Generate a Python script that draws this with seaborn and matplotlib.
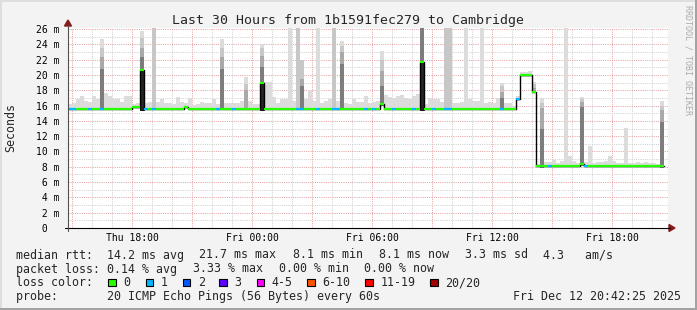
import numpy as np
import pandas as pd
import matplotlib
matplotlib.use("Agg")
import matplotlib.pyplot as plt
import matplotlib.transforms as mtrans
from matplotlib.patches import Rectangle, Polygon
from matplotlib.lines import Line2D
import seaborn as sns

# ---------------- data ----------------
TITLE = "Last 30 Hours from 1b1591fec279 to Cambridge"
start_hour = 14.8      # Thu 14:48, hours counted from Thu 00:00
bin_hours = 0.2        # one smoke column = 12 minutes

median_ms = [
    15.6, 15.6, 15.6, 15.6, 15.6, 15.6, 15.6, 15.6, 15.6, 15.6,
    15.6, 15.6, 15.6, 15.6, 15.6, 15.6, 15.8, 15.8, 20.7, 15.6,
    15.6, 15.6, 15.6, 15.6, 15.6, 15.6, 15.6, 15.6, 15.6, 15.8,
    15.6, 15.6, 15.6, 15.6, 15.6, 15.6, 15.6, 15.6, 15.6, 15.6,
    15.6, 15.6, 15.6, 15.6, 15.6, 15.6, 15.6, 15.6, 18.9, 15.6,
    15.6, 15.6, 15.6, 15.6, 15.6, 15.6, 15.6, 15.6, 15.6, 15.6,
    15.6, 15.6, 15.6, 15.6, 15.6, 15.6, 15.6, 15.6, 15.6, 15.6,
    15.6, 15.6, 15.6, 15.6, 15.6, 15.6, 15.6, 15.6, 16.2, 15.6,
    15.6, 15.6, 15.6, 15.6, 15.6, 15.6, 15.6, 15.6, 21.7, 15.6,
    15.6, 15.6, 15.6, 15.6, 15.6, 15.6, 15.6, 15.6, 15.6, 15.6,
    15.6, 15.6, 15.6, 15.6, 15.6, 15.6, 15.6, 15.6, 15.6, 15.6,
    15.6, 15.6, 16.8, 20.0, 20.0, 20.0, 17.8, 8.1, 8.1, 8.1,
    8.1, 8.1, 8.1, 8.1, 8.1, 8.1, 8.1, 8.1, 8.3, 8.1,
    8.1, 8.1, 8.1, 8.1, 8.1, 8.1, 8.1, 8.1, 8.1, 8.1,
    8.1, 8.1, 8.1, 8.1, 8.1, 8.1, 8.1, 8.1, 8.1,
]

smoke_top_ms = [
    16.2, 16.3, 16.9, 17.3, 16.6, 16.5, 17.2, 16.9, 24.7, 17.7,
    17.2, 16.9, 16.9, 16.5, 17.2, 17.2, 16.2, 16.3, 25.7, 16.3,
    16.5, 40.0, 16.5, 16.8, 16.3, 16.3, 16.2, 17.1, 16.5, 16.4,
    17.0, 16.1, 16.2, 16.5, 16.4, 16.3, 16.9, 16.2, 24.7, 16.3,
    16.4, 16.4, 16.3, 16.6, 19.7, 16.6, 16.2, 16.2, 24.1, 19.1,
    19.1, 17.1, 16.3, 16.8, 16.9, 40.0, 16.6, 40.0, 22.0, 16.9,
    18.0, 16.6, 40.0, 16.3, 16.6, 16.9, 40.0, 16.6, 24.5, 16.4,
    16.2, 16.8, 16.5, 16.5, 17.3, 16.3, 16.5, 16.6, 23.1, 17.4,
    17.1, 17.0, 17.3, 17.4, 17.0, 16.9, 17.2, 17.5, 40.0, 16.2,
    17.0, 16.9, 16.9, 16.5, 40.0, 40.0, 16.4, 16.3, 16.5, 40.0,
    16.8, 16.6, 16.6, 40.0, 16.4, 16.5, 16.4, 17.0, 19.0, 16.3,
    16.3, 16.0, 17.3, 20.4, 20.4, 20.5, 19.1, 8.3, 17.0, 8.6,
    8.6, 8.9, 8.5, 8.7, 40.0, 9.4, 8.8, 8.5, 17.1, 8.6,
    10.7, 8.5, 8.6, 8.6, 8.8, 9.4, 8.7, 8.5, 8.5, 13.1,
    8.5, 8.5, 8.6, 8.5, 8.6, 8.5, 8.5, 8.4, 16.6,
]

# columns with denser (darker) smoke
spike_bins = [8, 18, 21, 38, 44, 48, 57, 58, 66, 68, 78, 88, 94, 95, 108, 116, 118, 128, 148]
spike_upper = [23.5, 24.8, 40, 23.5, 18.8, 23.5, 40, 22.0, 40, 23.8, 22.0, 40, 40, 40, 18.5, 18.8, 16.3, 16.9, 16.0]
spike_mid = [22.3, 23.5, np.nan, 22.3, 18.0, 22.5, np.nan, 19.5, np.nan, 23.0, 20.5, 40, np.nan, np.nan, 17.8, 18.3, 15.7, 16.5, 15.4]
spike_dark = [20.8, 22.3, np.nan, 20.8, np.nan, 21.0, np.nan, 18.5, np.nan, 21.5, 18.5, 40, np.nan, np.nan, 17.0, np.nan, 13.0, 15.8, 13.8]
dense_bins = [18, 48, 88]          # whole column packed up to the median
dense_floor_ms = 15.4

one_loss_bins = [0, 1, 5, 8, 19, 21, 37, 41, 57, 58, 62, 66, 67, 74, 76, 81, 86, 91, 94, 95, 108, 112, 120, 129]

x_tick_hours = [18, 24, 30, 36, 42]
x_tick_labels = ["Thu 18:00", "Fri 00:00", "Fri 06:00", "Fri 12:00", "Fri 18:00"]
y_tick_values = list(range(0, 27, 2))

loss_legend = ["0", "1", "2", "3", "4-5", "6-10", "11-19", "20/20"]
loss_colors = ["#26ff00", "#00b8ff", "#0059ff", "#5e00ff", "#ff00ff", "#ff5500", "#ff0000", "#a00000"]

stats_rtt = ["median rtt:  14.2 ms avg", "21.7 ms max", "8.1 ms min", "8.1 ms now", "3.3 ms sd", "4.3   am/s"]
stats_loss = ["packet loss: 0.14 % avg", "3.33 % max", "0.00 % min", "0.00 % now"]
probe_text = "probe:       20 ICMP Echo Pings (56 Bytes) every 60s"
stamp_text = "Fri Dec 12 20:42:25 2025"

# ---------------- figure ----------------
W, H = 697, 310
sns.set_style("white")
plt.rcParams['font.family'] = ['DejaVu Sans Mono', 'DejaVu Sans']

BG = "#f3f3f3"
fig = plt.figure(figsize=(W / 100, H / 100), dpi=100, facecolor=BG)
L, R, T, B = 68, 668, 28, 228
ax = fig.add_axes([L / W, (H - B) / H, (R - L) / W, (B - T) / H])
ax.set_facecolor("white")
for s in ax.spines.values():
    s.set_visible(False)
ax.set_xlim(start_hour, start_hour + 30)
ax.set_ylim(0, 26.14)
ax.set_xticks([])
ax.set_yticks([])

n = len(median_ms)
df = pd.DataFrame({
    "t": start_hour + bin_hours * np.arange(n),
    "median": median_ms,
    "top": smoke_top_ms,
})
df["bottom"] = df["median"] - 0.2
df["loss"] = 0
df.loc[one_loss_bins, "loss"] = 1
sp = pd.DataFrame({"bin": spike_bins, "upper": spike_upper, "mid": spike_mid, "dark": spike_dark})
sp["t"] = df.loc[sp["bin"], "t"].values
sp["bottom"] = df.loc[sp["bin"], "bottom"].values
sp.loc[sp["bin"].isin(dense_bins), "bottom"] = dense_floor_ms

# grid
RED, GRAY = "#e6a0a0", "#cfcfcf"
dots = (0, (1, 1.2))
for h in range(15, 45):
    ax.axvline(h, color=RED if h % 3 == 0 else GRAY, ls=dots, lw=0.72, zorder=0.5)
for m in range(1, 27):
    ax.axhline(m, color=RED if m % 2 == 0 else GRAY, ls=dots, lw=0.72, zorder=0.5)

# smoke
ax.bar(df["t"], df["top"] - df["bottom"], bottom=df["bottom"], width=bin_hours, align="edge",
       color="#dcdcdc", lw=0, zorder=1)
for col, c in (("upper", "#c7c7c7"), ("mid", "#a9a9a9"), ("dark", "#7d7d7d")):
    s = sp.dropna(subset=[col])
    ax.bar(s["t"], s[col] - s["bottom"], bottom=s["bottom"], width=bin_hours, align="edge",
           color=c, lw=0, zorder=1.1)
dn = df.loc[dense_bins]
ax.bar(dn["t"], dn["median"] - dense_floor_ms, bottom=dense_floor_ms, width=bin_hours, align="edge",
       color="#262626", edgecolor="black", lw=0.6, zorder=1.2)

# median line (black steps) with loss-coloured segments
edges = list(df["t"]) + [start_hour + bin_hours * n]
meds = list(df["median"]) + [median_ms[-1]]
sns.lineplot(x=edges, y=meds, drawstyle="steps-post", color="black", lw=1.0,
             estimator=None, ax=ax, zorder=3)
hl = ax.hlines(df["median"], df["t"], df["t"] + bin_hours,
               colors=[loss_colors[k] for k in df["loss"]], lw=1.6, zorder=4)
hl.set_capstyle("butt")

# ---------------- axes decoration in pixel coordinates ----------------
ID = mtrans.IdentityTransform()


def P(x, y):
    return (x, H - y)


fig.add_artist(Line2D([65, 670], [H - 228, H - 228], color="black", lw=0.8, transform=ID))
fig.add_artist(Line2D([68, 68], [H - 231, H - 25], color="#505050", lw=0.8, transform=ID))
fig.add_artist(Polygon([P(669, 224.5), P(669, 231.5), P(675, 228)], closed=True,
                       color="#8b1a1a", transform=ID))
fig.add_artist(Polygon([P(64.5, 26), P(71.5, 26), P(68, 20)], closed=True,
                       color="#8b1a1a", transform=ID))

# tick labels
ytr = mtrans.offset_copy(mtrans.blended_transform_factory(ID, ax.transData), fig=fig, y=-4, units="dots")
for v in y_tick_values:
    lab = f"{v:2d} m" if v else " 0"
    ax.text(36, v, lab, transform=ytr, ha="left", va="baseline", fontsize=7, color="black")
xtr = mtrans.blended_transform_factory(ax.transData, ID)
for h, lab in zip(x_tick_hours, x_tick_labels):
    ax.text(h, H - 241, lab, transform=xtr, ha="center", va="baseline", fontsize=7, color="black")


def txt(x, y, s, size=8.35, **kw):
    fig.text(x, H - y, s, transform=ID, fontsize=size, va=kw.pop("va", "baseline"),
             ha=kw.pop("ha", "left"), **kw)


txt(348.5, 24, TITLE, size=9.57, ha="center")
txt(11, 128, "Seconds", va="center", ha="center", rotation=90)
txt(688, 60, "RRDTOOL / TOBI OETIKER", size=6, color="#ababab", va="center", ha="center", rotation=270)

for x, s in zip([15.5, 199.3, 292.6, 378.6, 465.0, 542.6], stats_rtt):
    txt(x, 258.5, s)
for x, s in zip([15.5, 192.6, 278.6, 364.3], stats_loss):
    txt(x, 272.5, s)
txt(15.5, 286.2, "loss color:")
swatch_x = [108.3, 145.7, 182.7, 219.2, 256.6, 307.2, 365.3, 430.4]
for x, lab, c in zip(swatch_x, loss_legend, loss_colors):
    fig.add_artist(Rectangle(P(x, 285.9), 7.4, 7.4, facecolor=c, edgecolor="black", lw=0.8, transform=ID))
    txt(x + 15.2, 286.2, lab)
txt(15.5, 300, probe_text)
txt(512.8, 300, stamp_text)

# frame shading
fig.add_artist(Rectangle((0, H - 2), W, 2, color="#dedede", lw=0, transform=ID))
fig.add_artist(Rectangle((0, 0), 2, H, color="#dedede", lw=0, transform=ID))
fig.add_artist(Rectangle((W - 2, 0), 2, H, color="#a3a3a3", lw=0, transform=ID))
fig.add_artist(Rectangle((0, 0), W, 2, color="#a3a3a3", lw=0, transform=ID))

fig.savefig("out.png", dpi=100, facecolor=BG)
